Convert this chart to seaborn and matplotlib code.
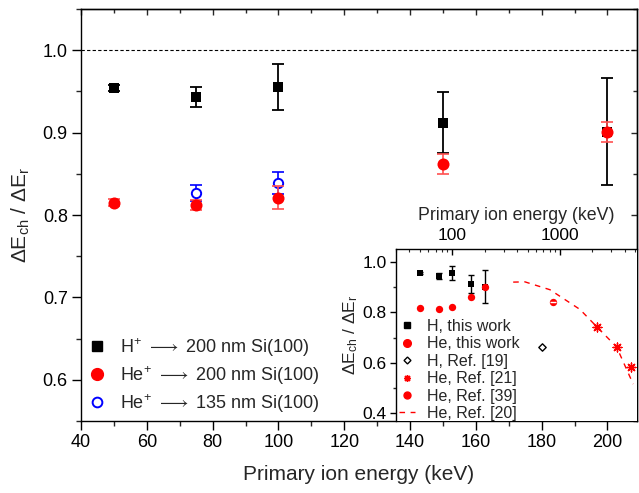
import numpy as np
import pandas as pd
import matplotlib
matplotlib.use("Agg")
import matplotlib.pyplot as plt
import seaborn as sns
from matplotlib.ticker import MultipleLocator, LogLocator, NullFormatter
from matplotlib.lines import Line2D

# ---------------- data ----------------
energy = [50, 75, 100, 150, 200]
ratio_H = [0.954, 0.943, 0.955, 0.912, 0.901]
err_H = [0.004, 0.012, 0.028, 0.037, 0.065]
ratio_He = [0.815, 0.812, 0.821, 0.862, 0.901]
err_He = [0.004, 0.006, 0.014, 0.012, 0.012]
energy_He135 = [75, 100]
ratio_He135 = [0.827, 0.839]
err_He135 = [0.010, 0.013]

ref19_E = [676]
ref19_r = [0.663]
ref21_E = [2220, 3360, 4560]
ref21_r = [0.741, 0.663, 0.582]
ref39_E = [866]
ref39_r = [0.841]
ref20_E = [368, 473, 807, 1535, 2193, 3358, 4790]
ref20_r = [0.919, 0.920, 0.889, 0.811, 0.743, 0.663, 0.516]

main_labels = [r"H$^{+}$ $\longrightarrow$ 200 nm Si(100)",
               r"He$^{+}$ $\longrightarrow$ 200 nm Si(100)",
               r"He$^{+}$ $\longrightarrow$ 135 nm Si(100)"]
inset_labels = ["H, this work", "He, this work", "H, Ref. [19]",
                "He, Ref. [21]", "He, Ref. [39]", "He, Ref. [20]"]

sns.set_theme(style="ticks")
plt.rcParams["font.family"] = ["Liberation Sans", "DejaVu Sans"]
plt.rcParams["mathtext.fontset"] = "custom"
plt.rcParams["mathtext.rm"] = "Liberation Sans"
plt.rcParams["mathtext.it"] = "Liberation Sans"
plt.rcParams["mathtext.fallback"] = "stixsans"
plt.rcParams["axes.linewidth"] = 1.0

fig = plt.figure(figsize=(6.39, 4.93), dpi=100)
ax = fig.add_axes([0.1268, 0.146, 0.8701, 0.8357])

RED = "#ff0000"
BLUE = "#0000ff"

dfH = pd.DataFrame({"E": energy, "r": ratio_H})
dfHe = pd.DataFrame({"E": energy, "r": ratio_He})
dfHe2 = pd.DataFrame({"E": energy_He135, "r": ratio_He135})

ax.axhline(1.0, color="black", lw=0.8, ls=(0, (3, 2)), zorder=1)

ax.errorbar(energy, ratio_H, yerr=err_H, fmt="none", ecolor="black",
            elinewidth=1.3, capsize=4, capthick=1.3, zorder=2)
sns.scatterplot(data=dfH, x="E", y="r", ax=ax, marker="s", s=55,
                color="black", edgecolor="black", linewidth=0, zorder=3)
ax.errorbar(energy_He135, ratio_He135, yerr=err_He135, fmt="none", ecolor=BLUE,
            elinewidth=1.2, capsize=4, capthick=1.2, zorder=4)
sns.scatterplot(data=dfHe2, x="E", y="r", ax=ax, marker="o", s=45,
                facecolor="white", edgecolor=BLUE, linewidth=1.4, zorder=5)
ax.errorbar(energy, ratio_He, yerr=err_He, fmt="none", ecolor="#ff5050",
            elinewidth=1.2, capsize=4, capthick=1.2, zorder=6)
sns.scatterplot(data=dfHe, x="E", y="r", ax=ax, marker="o", s=75,
                color=RED, edgecolor=RED, linewidth=0, zorder=7)

ax.set_xlim(40, 209)
ax.set_ylim(0.55, 1.05)
ax.xaxis.set_major_locator(MultipleLocator(20))
ax.xaxis.set_minor_locator(MultipleLocator(10))
ax.yaxis.set_major_locator(MultipleLocator(0.1))
ax.yaxis.set_minor_locator(MultipleLocator(0.05))
ax.yaxis.set_major_formatter(matplotlib.ticker.FormatStrFormatter("%.1f"))
ax.tick_params(which="major", direction="out", length=6.5, width=1.0,
               labelsize=13, colors="black", pad=3)
ax.tick_params(which="minor", direction="out", length=3.5, width=1.0)
ax.set_xlabel("Primary ion energy (keV)", fontsize=15, labelpad=10)
ax.set_ylabel(r"$\Delta$E$_{\rm ch}$ / $\Delta$E$_{\rm r}$", fontsize=15, labelpad=8)
for s in ax.spines.values():
    s.set_visible(True)
    s.set_color("black")

secx = ax.secondary_xaxis("top")
secx.xaxis.set_major_locator(MultipleLocator(20))
secx.xaxis.set_minor_locator(MultipleLocator(10))
secx.tick_params(which="major", direction="in", length=4.5, width=1.0, labeltop=False)
secx.tick_params(which="minor", direction="in", length=3, width=1.0)
secy = ax.secondary_yaxis("right")
secy.yaxis.set_major_locator(MultipleLocator(0.1))
secy.yaxis.set_minor_locator(MultipleLocator(0.05))
secy.tick_params(which="major", direction="in", length=4.5, width=1.0, labelright=False)
secy.tick_params(which="minor", direction="in", length=3, width=1.0)

h1 = Line2D([], [], ls="none", marker="s", ms=7, color="black")
h2 = Line2D([], [], ls="none", marker="o", ms=8.5, color=RED)
h3 = Line2D([], [], ls="none", marker="o", ms=7, mfc="white", mec=BLUE, mew=1.4)
ax.legend([h1, h2, h3], main_labels, loc="lower left",
          bbox_to_anchor=(-0.01, -0.02), frameon=False, fontsize=13,
          handletextpad=0.87, handlelength=0.8, labelspacing=0.3,
          borderaxespad=0.4)

# ---------------- inset ----------------
ins = fig.add_axes([0.6197, 0.146, 0.3772, 0.349])
ins.set_facecolor("white")
ins.set_zorder(10)
dref20 = pd.DataFrame({"E": ref20_E, "r": ref20_r})
sns.lineplot(data=dref20, x="E", y="r", ax=ins, color=RED, lw=1.0,
             ls=(0, (4, 4)), zorder=1)
ins.errorbar(energy, ratio_H, yerr=err_H, fmt="none", ecolor="black",
             elinewidth=1.0, capsize=2.5, capthick=1.0, zorder=2)
sns.scatterplot(data=dfH, x="E", y="r", ax=ins, marker="s", s=20,
                color="black", linewidth=0, zorder=3)
sns.scatterplot(data=dfHe, x="E", y="r", ax=ins, marker="o", s=28,
                color=RED, linewidth=0, zorder=4)
sns.scatterplot(x=ref19_E, y=ref19_r, ax=ins, marker="D", s=14,
                facecolor="white", edgecolor="black", linewidth=1.0, zorder=4)
sns.scatterplot(x=ref21_E, y=ref21_r, ax=ins, marker=(8, 2, 0), s=40,
                color=RED, edgecolor=RED, linewidth=1.0, zorder=4)
sns.scatterplot(x=ref39_E, y=ref39_r, ax=ins, marker="o", s=28,
                color=RED, linewidth=0, zorder=4)
sns.scatterplot(x=ref39_E, y=ref39_r, ax=ins, marker="_", s=16,
                color="white", linewidth=1.0, zorder=5)

ins.set_xscale("log")
ins.set_xlim(30, 5200)
ins.set_ylim(0.37, 1.05)
ins.xaxis.tick_top()
ins.xaxis.set_label_position("top")
ins.xaxis.set_major_locator(LogLocator(base=10, numticks=10))
ins.xaxis.set_minor_locator(LogLocator(base=10, subs=np.arange(2, 10), numticks=20))
ins.xaxis.set_minor_formatter(NullFormatter())
ins.xaxis.set_major_formatter(matplotlib.ticker.FuncFormatter(lambda v, p: f"{int(round(v))}"))
ins.tick_params(axis="x", which="major", direction="in", length=4, width=1.0,
                labelsize=12.5, pad=4, colors="black")
ins.tick_params(axis="x", which="minor", direction="in", length=2.5, width=0.8)
ins.yaxis.set_major_locator(MultipleLocator(0.2))
ins.yaxis.set_minor_locator(MultipleLocator(0.1))
ins.yaxis.set_major_formatter(matplotlib.ticker.FormatStrFormatter("%.1f"))
ins.tick_params(axis="y", which="major", direction="out", length=4.5, width=1.0,
                labelsize=12.5, pad=2, colors="black")
ins.tick_params(axis="y", which="minor", direction="out", length=2.5, width=1.0)
ins.set_xlabel("Primary ion energy (keV)", fontsize=12.8, labelpad=6)
ins.set_ylabel(r"$\Delta$E$_{\rm ch}$ / $\Delta$E$_{\rm r}$", fontsize=12.5, labelpad=2)
ins.spines["bottom"].set_visible(False)
ins.spines["right"].set_visible(False)
for s in ["top", "left"]:
    ins.spines[s].set_color("black")
    ins.spines[s].set_linewidth(1.0)

ih1 = Line2D([], [], ls="none", marker="s", ms=4.5, color="black")
ih2 = Line2D([], [], ls="none", marker="o", ms=5.5, color=RED)
ih3 = Line2D([], [], ls="none", marker="D", ms=3.5, mfc="white", mec="black", mew=1.0)
ih4 = Line2D([], [], ls="none", marker=(8, 2, 0), ms=5, color=RED, mew=1.0)
ih5 = Line2D([], [], ls="none", marker="o", ms=5, color=RED)
ih6 = Line2D([], [], ls=(0, (4, 4)), lw=1.0, color=RED)
ins.legend([ih1, ih2, ih3, ih4, ih5, ih6], inset_labels, loc="lower left",
           bbox_to_anchor=(-0.027, -0.055), frameon=False, fontsize=11.5,
           handletextpad=0.75, handlelength=1.0, labelspacing=0.15,
           borderaxespad=0.2)

fig.savefig("out.png", dpi=100)
